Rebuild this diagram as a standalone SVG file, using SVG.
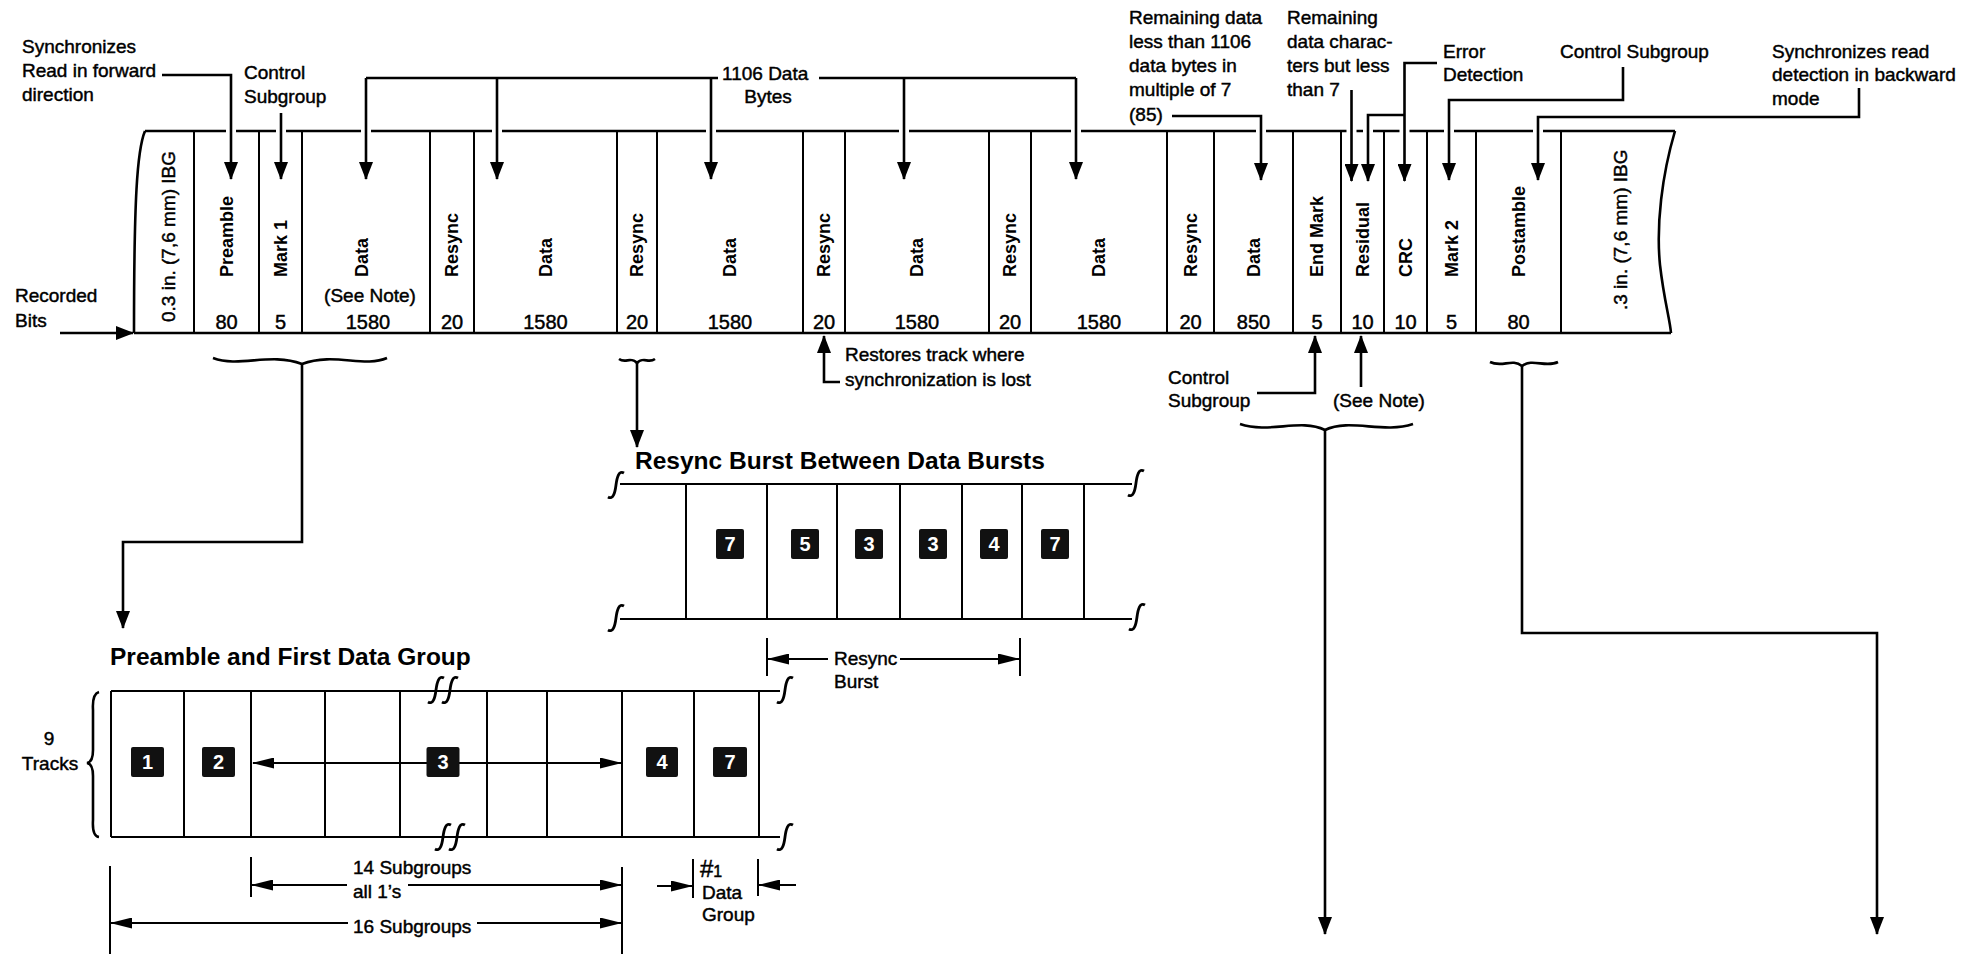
<svg xmlns="http://www.w3.org/2000/svg" width="1972" height="954" viewBox="0 0 1972 954">
<style>
.ln{stroke:#000;stroke-width:2.6;fill:none}
.th{stroke:#000;stroke-width:2;fill:none}
.gap{stroke:#fff;stroke-width:10}
.t{font-family:"Liberation Sans",Arial,sans-serif;font-size:19px;fill:#000;stroke:#000;stroke-width:0.45px}
.m{text-anchor:middle}
.num{font-size:20px}
.rot{font-weight:bold;font-size:18px;dominant-baseline:central;stroke-width:0}
.ibg{font-size:19px;dominant-baseline:central}
.title{font-weight:bold;font-size:24.5px;stroke-width:0}
.bx{fill:#111}
.bn{font-family:"Liberation Sans",Arial,sans-serif;font-weight:bold;font-size:20px;fill:#fff;text-anchor:middle}
.arr{marker-end:url(#ah)}
.ars{marker-end:url(#as)}
</style>
<defs>
<marker id="ah" markerUnits="userSpaceOnUse" markerWidth="18" markerHeight="14" refX="17" refY="7" orient="auto"><path d="M0,0 L18,7 L0,14 z" fill="#000"/></marker>
<marker id="as" markerUnits="userSpaceOnUse" markerWidth="22" markerHeight="11" refX="21" refY="5.5" orient="auto"><path d="M0,0 L22,5.5 L0,11 z" fill="#000"/></marker>
<path id="fm" d="M8,-12 C3,-15 1,-8 0,0 C-1,8 -3,15 -8,12" fill="none" stroke="#000" stroke-width="2.8"/>
</defs>
<rect width="1972" height="954" fill="#fff"/>

<g id="tape">
<path class="ln" d="M145,131 H1675 M134,333 H1671"/>
<path class="ln" d="M145,131 C137,150 134,200 134,333"/>
<path class="ln" d="M1675,131 C1662,175 1656,225 1660,265 C1664,300 1670,320 1671,333"/>
<path class="th" d="M194,131V333 M259,131V333 M302,131V333 M430,131V333 M474,131V333 M617,131V333 M657,131V333 M803,131V333 M845,131V333 M989,131V333 M1031,131V333 M1167,131V333 M1214,131V333 M1293,131V333 M1341,131V333 M1384,131V333 M1427,131V333 M1476,131V333 M1561,131V333"/>
<text class="t ibg" transform="translate(168,322) rotate(-90)">0.3 in. (7,6 mm) IBG</text>
<text class="t ibg" transform="translate(1620,310) rotate(-90)">.3 in. (7,6 mm) IBG</text>
<text class="t rot" transform="translate(226.5,277) rotate(-90)">Preamble</text>
<text class="t rot" transform="translate(280.5,277) rotate(-90)">Mark 1</text>
<text class="t rot" transform="translate(362,277) rotate(-90)">Data</text>
<text class="t rot" transform="translate(452,277) rotate(-90)">Resync</text>
<text class="t rot" transform="translate(545.5,277) rotate(-90)">Data</text>
<text class="t rot" transform="translate(637,277) rotate(-90)">Resync</text>
<text class="t rot" transform="translate(730,277) rotate(-90)">Data</text>
<text class="t rot" transform="translate(824,277) rotate(-90)">Resync</text>
<text class="t rot" transform="translate(917,277) rotate(-90)">Data</text>
<text class="t rot" transform="translate(1010,277) rotate(-90)">Resync</text>
<text class="t rot" transform="translate(1099,277) rotate(-90)">Data</text>
<text class="t rot" transform="translate(1190.5,277) rotate(-90)">Resync</text>
<text class="t rot" transform="translate(1253.5,277) rotate(-90)">Data</text>
<text class="t rot" transform="translate(1317,277) rotate(-90)">End Mark</text>
<text class="t rot" transform="translate(1362.5,277) rotate(-90)">Residual</text>
<text class="t rot" transform="translate(1405.5,277) rotate(-90)">CRC</text>
<text class="t rot" transform="translate(1451.5,277) rotate(-90)">Mark 2</text>
<text class="t rot" transform="translate(1518.5,277) rotate(-90)">Postamble</text>
<text class="t m" x="370" y="302">(See Note)</text>
<g class="t m num">
<text x="226.5" y="329">80</text>
<text x="280.5" y="329">5</text>
<text x="368" y="329">1580</text>
<text x="452" y="329">20</text>
<text x="545.5" y="329">1580</text>
<text x="637" y="329">20</text>
<text x="730" y="329">1580</text>
<text x="824" y="329">20</text>
<text x="917" y="329">1580</text>
<text x="1010" y="329">20</text>
<text x="1099" y="329">1580</text>
<text x="1190.5" y="329">20</text>
<text x="1253.5" y="329">850</text>
<text x="1317" y="329">5</text>
<text x="1362.5" y="329">10</text>
<text x="1405.5" y="329">10</text>
<text x="1451.5" y="329">5</text>
<text x="1518.5" y="329">80</text>
</g>
</g>

<g id="label-recorded-bits">
<text class="t" x="15" y="302">Recorded</text>
<text class="t" x="15" y="327">Bits</text>
</g>
<g id="label-sync-forward">
<text class="t" x="22" y="53">Synchronizes</text>
<text class="t" x="22" y="77">Read in forward</text>
<text class="t" x="22" y="101">direction</text>
</g>
<g id="label-control-1">
<text class="t" x="244" y="79">Control</text>
<text class="t" x="244" y="103">Subgroup</text>
</g>
<g id="label-1106">
<text class="t" x="722" y="80">1106 Data</text>
<text class="t m" x="768" y="103">Bytes</text>
</g>
<g id="label-remaining-85">
<text class="t" x="1129" y="24">Remaining data</text>
<text class="t" x="1129" y="48">less than 1106</text>
<text class="t" x="1129" y="72">data bytes in</text>
<text class="t" x="1129" y="96">multiple of 7</text>
<text class="t" x="1129" y="121">(85)</text>
</g>
<g id="label-remaining-7">
<text class="t" x="1287" y="24">Remaining</text>
<text class="t" x="1287" y="48">data charac-</text>
<text class="t" x="1287" y="72">ters but less</text>
<text class="t" x="1287" y="96">than 7</text>
</g>
<g id="label-error">
<text class="t" x="1443" y="58">Error</text>
<text class="t" x="1443" y="81">Detection</text>
</g>
<g id="label-control-2">
<text class="t" x="1560" y="58">Control Subgroup</text>
</g>
<g id="label-sync-backward">
<text class="t" x="1772" y="58">Synchronizes read</text>
<text class="t" x="1772" y="81">detection in backward</text>
<text class="t" x="1772" y="105">mode</text>
</g>
<g id="label-restores">
<text class="t" x="845" y="361">Restores track where</text>
<text class="t" x="845" y="386">synchronization is lost</text>
</g>
<g id="label-control-3">
<text class="t" x="1168" y="384">Control</text>
<text class="t" x="1168" y="407">Subgroup</text>
</g>
<g id="label-see-note">
<text class="t" x="1333" y="407">(See Note)</text>
</g>

<g id="connectors">
<path class="gap" d="M231,125V136 M281,125V136 M366,125V136 M497,125V136 M711,125V136 M904,125V136 M1076,125V136 M1261,125V136 M1351.5,125V136 M1368,125V136 M1404.5,125V136 M1449,125V136 M1538,125V136"/>
<path class="ln arr" d="M162,75 H231 V179"/>
<path class="ln arr" d="M281,113 V179"/>
<path class="ln" d="M718,78 H366 M819,78 H1076"/>
<path class="ln arr" d="M366,78 V179"/>
<path class="ln arr" d="M497,78 V179"/>
<path class="ln arr" d="M711,78 V179"/>
<path class="ln arr" d="M904,78 V179"/>
<path class="ln arr" d="M1076,78 V179"/>
<path class="ln arr" d="M1172,116 H1261 V180"/>
<path class="ln arr" d="M1351.5,90 V181"/>
<path class="ln arr" d="M1437,63 H1404.5 V181"/>
<path class="ln arr" d="M1404.5,115 H1368 V181"/>
<path class="ln arr" d="M1623,67 V100 H1449 V180"/>
<path class="ln arr" d="M1859,88 V117 H1538 V180"/>
<path class="ln arr" d="M60,333 H133"/>
<path class="ln arr" d="M840,382 H824 V336"/>
<path class="ln arr" d="M1257,393 H1315 V336"/>
<path class="ln arr" d="M1361,387 V336"/>
<path class="ln" stroke-width="3" d="M213,358 C240,368 270,352 302,364 C334,352 364,368 387,358"/>
<path class="ln arr" d="M302,364 V542 H123 V628"/>
<path class="ln" stroke-width="3" d="M619,359 C626,364 630,356 637,363 C644,356 648,364 655,359"/>
<path class="ln arr" d="M637,363 V447"/>
<path class="ln" stroke-width="3" d="M1240,424 C1270,434 1300,418 1325,430 C1350,418 1383,434 1413,424"/>
<path class="ln arr" d="M1325,430 V934"/>
<path class="ln" stroke-width="3" d="M1490,362 C1502,368 1512,358 1522,366 C1532,358 1546,368 1558,362"/>
<path class="ln arr" d="M1522,366 V633 H1877 V934"/>
</g>

<g id="resync-burst">
<text class="t title" x="635" y="469">Resync Burst Between Data Bursts</text>
<path class="th" d="M620,484 H1132 M620,619 H1132"/>
<path class="th" d="M686,484V619 M767,484V619 M837,484V619 M900,484V619 M962,484V619 M1022,484V619 M1084,484V619"/>
<use href="#fm" x="616" y="485"/>
<use href="#fm" x="616" y="618"/>
<use href="#fm" x="1136" y="483"/>
<use href="#fm" x="1137" y="617"/>
<rect class="bx" x="716" y="529" width="28" height="30" rx="2"/><text class="bn" x="730" y="551">7</text>
<rect class="bx" x="791" y="529" width="28" height="30" rx="2"/><text class="bn" x="805" y="551">5</text>
<rect class="bx" x="855" y="529" width="28" height="30" rx="2"/><text class="bn" x="869" y="551">3</text>
<rect class="bx" x="919" y="529" width="28" height="30" rx="2"/><text class="bn" x="933" y="551">3</text>
<rect class="bx" x="980" y="529" width="28" height="30" rx="2"/><text class="bn" x="994" y="551">4</text>
<rect class="bx" x="1041" y="529" width="28" height="30" rx="2"/><text class="bn" x="1055" y="551">7</text>
<path class="th" d="M767,638 V676 M1020,638 V676"/>
<path class="th ars" d="M828,659 H768"/>
<path class="th ars" d="M900,659 H1019"/>
<text class="t" x="834" y="665">Resync</text>
<text class="t" x="834" y="688">Burst</text>
</g>

<g id="preamble-group">
<text class="t title" x="110" y="665">Preamble and First Data Group</text>
<path class="th" d="M111,691 H780 M111,837 H780"/>
<path class="th" d="M111,691V837 M184,691V837 M251,691V837 M325,691V837 M400,691V837 M487,691V837 M547,691V837 M622,691V837 M694,691V837 M759,691V837"/>
<use href="#fm" x="436" y="690"/>
<use href="#fm" x="450" y="690"/>
<use href="#fm" x="443" y="837"/>
<use href="#fm" x="457" y="837"/>
<use href="#fm" x="785" y="690"/>
<use href="#fm" x="785" y="837"/>
<path class="th ars" d="M430,763 H253"/>
<path class="th ars" d="M456,763 H621"/>
<rect class="bx" x="131" y="747" width="33" height="30" rx="2"/><text class="bn" x="147.5" y="769">1</text>
<rect class="bx" x="202" y="747" width="33" height="30" rx="2"/><text class="bn" x="218.5" y="769">2</text>
<rect class="bx" x="426.5" y="747" width="33" height="30" rx="2"/><text class="bn" x="443" y="769">3</text>
<rect class="bx" x="646" y="747" width="32" height="30" rx="2"/><text class="bn" x="662" y="769">4</text>
<rect class="bx" x="713" y="747" width="34" height="30" rx="2"/><text class="bn" x="730" y="769">7</text>
<path class="ln" d="M99,692 Q92,694 93,710 L93,750 Q93,762 87,763 Q93,764 93,776 L93,820 Q92,836 99,837"/>
<text class="t m" x="49" y="745">9</text>
<text class="t m" x="50" y="770">Tracks</text>
<path class="th" d="M251,857 V897 M622,867 V954 M110,866 V954 M693,859 V898 M758,859 V896"/>
<path class="th ars" d="M347,885 H252"/>
<path class="th ars" d="M408,885 H621"/>
<path class="th ars" d="M348,923 H111"/>
<path class="th ars" d="M477,923 H621"/>
<path class="th ars" d="M657,886 H692"/>
<path class="th ars" d="M796,885 H759"/>
<text class="t" x="353" y="874">14 Subgroups</text>
<text class="t" x="353" y="898">all 1’s</text>
<text class="t" x="353" y="933">16 Subgroups</text>
<text class="t" x="700" y="877"><tspan font-size="24">#</tspan><tspan font-size="16">1</tspan></text>
<text class="t" x="702" y="899">Data</text>
<text class="t" x="702" y="921">Group</text>
</g>
</svg>
